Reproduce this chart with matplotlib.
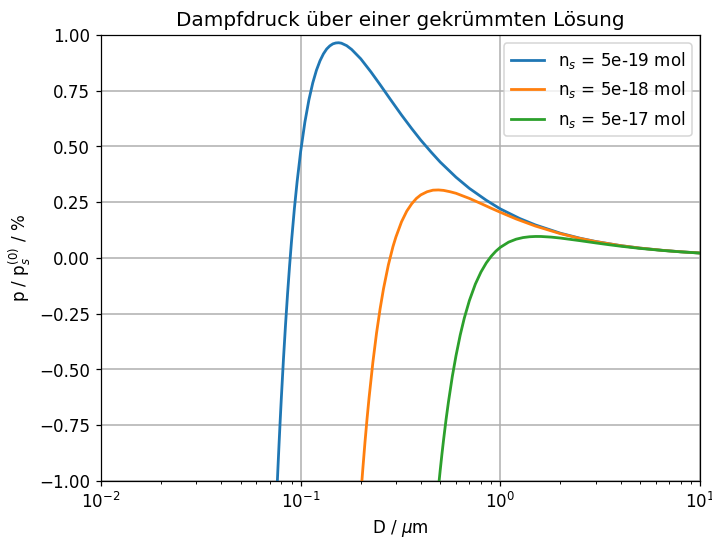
import matplotlib
matplotlib.use('Agg')
from matplotlib import pyplot as plt
import numpy as np

# diameter in um and vapour pressure excess in %
d_1 = [0.0764, 0.077, 0.078, 0.079, 0.080, 0.082, 0.084, 0.086, 0.088, 0.090,
       0.093, 0.096, 0.100, 0.105, 0.110, 0.115, 0.120, 0.125, 0.130, 0.135,
       0.140, 0.145, 0.150, 0.155, 0.160, 0.170, 0.180, 0.200, 0.225, 0.250,
       0.280, 0.320, 0.360, 0.400, 0.450, 0.500, 0.600, 0.700, 0.850, 1.0,
       1.25, 1.5, 2.0, 2.5, 3.0, 4.0, 5.0, 6.5, 8.0, 10.0]
p_1 = [-1.005, -0.937, -0.829, -0.727, -0.631, -0.455, -0.299, -0.160, -0.036, 0.075,
       0.220, 0.342, 0.477, 0.609, 0.709, 0.785, 0.842, 0.884, 0.915, 0.937,
       0.951, 0.960, 0.964, 0.965, 0.963, 0.952, 0.935, 0.893, 0.834, 0.777,
       0.714, 0.641, 0.580, 0.528, 0.475, 0.430, 0.362, 0.312, 0.259, 0.220,
       0.177, 0.148, 0.111, 0.0888, 0.0740, 0.0555, 0.0444, 0.0342, 0.0278, 0.0222]

d_2 = [0.2025, 0.205, 0.21, 0.215, 0.22, 0.23, 0.24, 0.25, 0.26, 0.275,
       0.29, 0.30, 0.32, 0.34, 0.36, 0.38, 0.40, 0.43, 0.46, 0.49,
       0.52, 0.56, 0.60, 0.65, 0.70, 0.80, 0.90, 1.0, 1.2, 1.5,
       2.0, 2.5, 3.0, 4.0, 5.0, 6.5, 8.0, 10.0]
p_2 = [-1.004, -0.942, -0.826, -0.722, -0.629, -0.468, -0.336, -0.228, -0.138, -0.031,
       0.051, 0.094, 0.162, 0.210, 0.243, 0.267, 0.283, 0.297, 0.304, 0.305,
       0.303, 0.297, 0.290, 0.278, 0.267, 0.244, 0.223, 0.205, 0.175, 0.143,
       0.109, 0.0878, 0.0734, 0.0553, 0.0443, 0.0341, 0.0277, 0.0222]

d_3 = [0.4935, 0.50, 0.51, 0.52, 0.535, 0.55, 0.575, 0.60, 0.63, 0.66,
       0.70, 0.75, 0.80, 0.85, 0.90, 0.95, 1.0, 1.1, 1.2, 1.3,
       1.4, 1.5, 1.6, 1.8, 2.0, 2.5, 3.0, 3.5, 4.0, 5.0,
       6.5, 8.0, 10.0]
p_3 = [-1.002, -0.952, -0.880, -0.814, -0.724, -0.645, -0.531, -0.438, -0.345, -0.270,
       -0.191, -0.117, -0.063, -0.0227, 0.0075, 0.0304, 0.0477, 0.0709, 0.0842, 0.0915,
       0.0951, 0.0964, 0.0963, 0.0935, 0.0893, 0.0777, 0.0676, 0.0594, 0.0528, 0.0430,
       0.0336, 0.0274, 0.0220]

labels = ['n$_s$ = 5e-19 mol', 'n$_s$ = 5e-18 mol', 'n$_s$ = 5e-17 mol']

plt.rcParams['font.size'] = 10.8

fig = plt.figure(figsize=(6.4, 4.83), dpi=111.4)
ax = fig.add_axes([101 / 713, 57 / 538, 599 / 713, 446 / 538])

for d, p, lab in zip([d_1, d_2, d_3], [p_1, p_2, p_3], labels):
    ax.plot(d, p, lw=1.8, label=lab)

ax.set_xscale('log')
ax.set_xlim(1e-2, 1e1)
ax.set_ylim(-1, 1)
ax.set_yticks(np.arange(-1, 1.01, 0.25))
ax.grid(True, lw=1.0)
ax.set_title('Dampfdruck über einer gekrümmten Lösung')
ax.set_xlabel('D / $\\mu$m')
ax.set_ylabel('p / p$_s^{(0)}$ / %')
ax.legend(loc='upper right')

plt.savefig('out.png')
